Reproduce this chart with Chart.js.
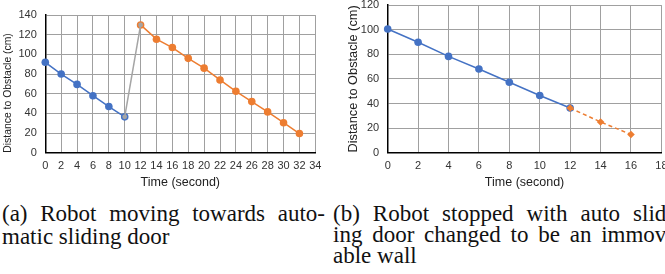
<!DOCTYPE html>
<html>
<head>
<meta charset="utf-8">
<script src="https://cdn.jsdelivr.net/npm/chart.js@4"></script>
<style>
    html, body { margin: 0; padding: 0; background: #fff; width: 665px; height: 274px; overflow: hidden; position: relative; }
    .box { position: absolute; }
    .cap {
        position: absolute; font-family: "Liberation Serif", serif; font-size: 23px;
        line-height: 22px; color: #111; white-space: nowrap;
    }
    .just { text-align: justify; text-align-last: justify; white-space: normal; }
</style>
</head>
<body>
<div class="box" style="left:0;top:0;width:330px;height:190px"><canvas id="chartA" width="330" height="190"></canvas></div>
<div class="box" style="left:330px;top:-10px;width:350px;height:200px"><canvas id="chartB" width="350" height="200"></canvas></div>

<div class="cap just" style="left:2px;top:203px;width:323px">(a) Robot moving towards auto-</div>
<div class="cap" style="left:2px;top:226px">matic sliding door</div>

<div class="cap just" style="left:333px;top:203px;width:341px">(b) Robot stopped with auto slid-</div>
<div class="cap just" style="left:333px;top:224px;width:341px">ing door changed to be an immov-</div>
<div class="cap" style="left:333px;top:245px">able wall</div>

<script>
// Chart (a): robot heading to the automatic door
const timeA1 = [0, 2, 4, 6, 8, 10];
const distA1 = [92, 80, 69.5, 58, 47, 36.5];
const timeA2 = [12, 14, 16, 18, 20, 22, 24, 26, 28, 30, 32];
const distA2 = [130, 115.5, 107, 96, 86, 74, 62.5, 52, 41.5, 30.5, 19.5];
const timeGap = [10, 12];
const distGap = [36.5, 130];
const xTicksA = [0, 2, 4, 6, 8, 10, 12, 14, 16, 18, 20, 22, 24, 26, 28, 30, 32, 34];
const yTicksA = [0, 20, 40, 60, 80, 100, 120, 140];

// Chart (b): door became a wall
const timeB1 = [0, 2, 4, 6, 8, 10, 12];
const distB1 = [100.6, 89.8, 78.3, 68.1, 57.3, 46.5, 36.3];
const timeB2 = [12, 14, 16];
const distB2 = [36.3, 25, 14.8];
const xTicksB = [0, 2, 4, 6, 8, 10, 12, 14, 16, 18];
const yTicksB = [0, 20, 40, 60, 80, 100, 120];

const BLUE = '#4472C4';
const ORANGE = '#ED7D31';
const GRAY = '#A5A5A5';
const GRID = '#a0a0a0';
const SANS = '"Liberation Sans", Arial, sans-serif';

function pts(xs, ys) {
    return xs.map((x, i) => ({ x: x, y: ys[i] }));
}

function series(xs, ys, color, extra) {
    return Object.assign({
        data: pts(xs, ys),
        showLine: true,
        clip: false,
        borderColor: color,
        backgroundColor: color,
        borderWidth: 1.5,
        pointRadius: 3.8,
        pointBorderWidth: 0,
        pointBackgroundColor: color
    }, extra || {});
}

function makeScales(cfg) {
    return {
        x: {
            type: 'linear',
            min: cfg.xTicks[0],
            max: cfg.xTicks[cfg.xTicks.length - 1],
            afterBuildTicks: s => { s.ticks = cfg.xTicks.map(v => ({ value: v })); },
            afterFit: s => { s.height = cfg.xAxisHeight; },
            grid: { color: GRID, lineWidth: 1, drawTicks: false },
            border: { color: '#000', width: 1.5 },
            ticks: { padding: 7, autoSkip: false, maxRotation: 0, color: '#333', font: { family: SANS, size: 11 } },
            title: { display: true, text: 'Time (second)', color: '#222', font: { family: SANS, size: 12.5 }, padding: { top: 0, bottom: 0 } }
        },
        y: {
            type: 'linear',
            min: cfg.yTicks[0],
            max: cfg.yTicks[cfg.yTicks.length - 1],
            afterBuildTicks: s => { s.ticks = cfg.yTicks.map(v => ({ value: v })); },
            afterFit: s => { s.width = cfg.yAxisWidth; },
            grid: { color: GRID, lineWidth: 1, drawTicks: false },
            border: { color: '#000', width: 1.5 },
            ticks: { padding: 8.5, color: '#333', font: { family: SANS, size: 11 } },
            title: {
                display: true, text: 'Distance to Obstacle (cm)', color: '#222', align: cfg.yTitleAlign,
                font: { family: SANS, size: cfg.yTitleSize }, padding: { top: cfg.yTitlePad, bottom: 0 }
            }
        }
    };
}

const baseOpts = {
    responsive: false,
    animation: false,
    plugins: { legend: { display: false }, tooltip: { enabled: false } }
};

new Chart(document.getElementById('chartA'), {
    type: 'scatter',
    data: {
        datasets: [
            series(timeGap, distGap, GRAY, { order: 0, pointRadius: 2.4 }),
            series(timeA1, distA1, BLUE, { order: 1 }),
            series(timeA2, distA2, ORANGE, { order: 2 })
        ]
    },
    options: Object.assign({}, baseOpts, {
        layout: { padding: { left: 0, right: 14.7, top: 6.7, bottom: 0 } },
        scales: makeScales({
            xTicks: xTicksA, yTicks: yTicksA, yAxisWidth: 45.3, xAxisHeight: 37.3,
            yTitleSize: 10.4, yTitleAlign: 'start', yTitlePad: 2
        })
    })
});

new Chart(document.getElementById('chartB'), {
    type: 'scatter',
    data: {
        datasets: [
            series(timeB2, distB2, ORANGE, { order: 0, borderDash: [4, 3], pointStyle: 'rectRot', pointRadius: 3.8 }),
            series(timeB1, distB1, BLUE, { order: 1 })
        ]
    },
    options: Object.assign({}, baseOpts, {
        layout: { padding: { left: 16, right: 18.6, top: 14, bottom: 0 } },
        scales: makeScales({
            xTicks: xTicksB, yTicks: yTicksB, yAxisWidth: 41.7, xAxisHeight: 37.3,
            yTitleSize: 12.8, yTitleAlign: 'center', yTitlePad: 0
        })
    })
});
</script>
</body>
</html>
